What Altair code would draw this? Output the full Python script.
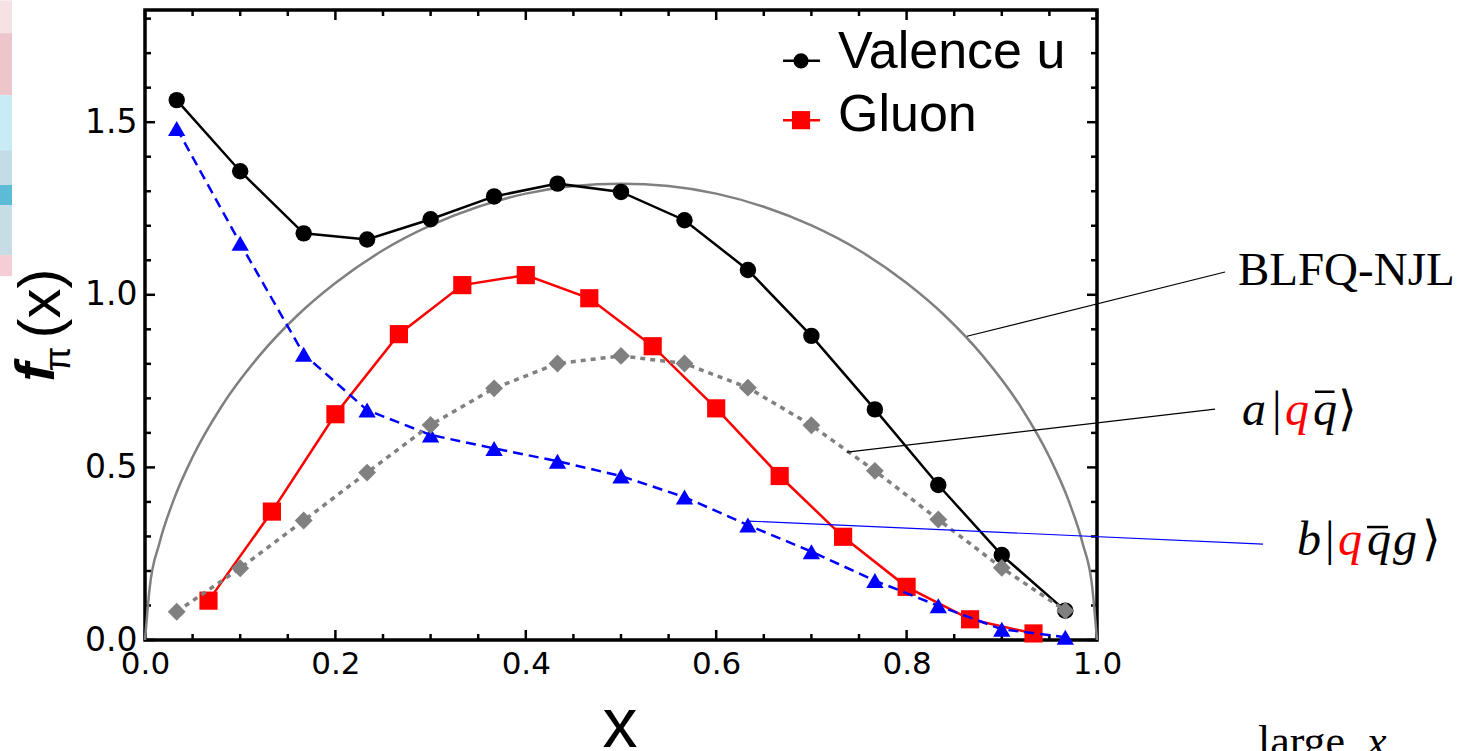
import altair as alt
import pandas as pd

# ---------------- data ----------------
x_odd = [0.0333, 0.1, 0.1667, 0.2333, 0.3, 0.3667, 0.4333, 0.5, 0.5667,
         0.6333, 0.7, 0.7667, 0.8333, 0.9, 0.9667]
x_even = [0.0667, 0.1333, 0.2, 0.2667, 0.3333, 0.4, 0.4667, 0.5333, 0.6,
          0.6667, 0.7333, 0.8, 0.8667, 0.9333]

valence_u = [1.564, 1.358, 1.178, 1.160, 1.219, 1.285, 1.322, 1.298, 1.216,
             1.072, 0.881, 0.668, 0.449, 0.246, 0.085]
gluon = [0.114, 0.372, 0.654, 0.886, 1.028, 1.057, 0.990, 0.851, 0.671,
         0.475, 0.299, 0.154, 0.060, 0.019]
a_qqbar = [0.082, 0.208, 0.346, 0.485, 0.623, 0.729, 0.801, 0.823, 0.801,
           0.731, 0.622, 0.490, 0.349, 0.209, 0.085]
b_qqbarg = [1.482, 1.149, 0.828, 0.666, 0.594, 0.555, 0.518, 0.475, 0.414,
            0.333, 0.256, 0.172, 0.099, 0.031, 0.008]

blfq_x = [0.0, 0.005, 0.015, 0.03, 0.05, 0.08, 0.12, 0.16, 0.2, 0.25, 0.3,
          0.35, 0.4, 0.45, 0.5, 0.55, 0.6, 0.65, 0.7, 0.75, 0.8, 0.84, 0.88,
          0.92, 0.95, 0.97, 0.985, 0.995, 1.0]
blfq_y = [0.0, 0.153, 0.279, 0.405, 0.530, 0.675, 0.823, 0.940, 1.034, 1.129,
          1.201, 1.255, 1.293, 1.315, 1.322, 1.315, 1.293, 1.255, 1.201, 1.129,
          1.034, 0.940, 0.823, 0.675, 0.530, 0.405, 0.279, 0.153, 0.0]

x_tick_labels = [0.0, 0.2, 0.4, 0.6, 0.8, 1.0]
y_tick_labels = [0.0, 0.5, 1.0, 1.5]
x_minor_step = 0.05
y_minor_step = 0.1

X_DOMAIN = [0.0, 1.0]
Y_DOMAIN = [0.0, 1.825]

# ---------------- scales / axes ----------------
xs = alt.Scale(domain=X_DOMAIN, nice=False, zero=False)
ys = alt.Scale(domain=Y_DOMAIN, nice=False, zero=False)
xax = alt.Axis(values=x_tick_labels, format='.1f', title=None, ticks=False,
               domain=False, grid=False, labelFont='DejaVu Sans',
               labelFontSize=31, labelColor='black', labelPadding=9,
               labelFlush=False, labelOverlap=False)
yax = alt.Axis(values=y_tick_labels, format='.1f', title=None, ticks=False,
               domain=False, grid=False, labelFont='DejaVu Sans',
               labelFontSize=33, labelColor='black', labelPadding=8,
               labelOverlap=False)


def X(f='x'):
    return alt.X(f'{f}:Q', scale=xs, axis=xax)


def Y(f='y'):
    return alt.Y(f'{f}:Q', scale=ys, axis=yax)


def df(xv, yv):
    return pd.DataFrame({'x': xv, 'y': yv})


layers = []

# decorative fragment of a picture at the far left
decor = pd.DataFrame({
    'x': [-0.1523] * 7, 'x2': [-0.1397] * 7,
    'y': [1.853, 1.758, 1.578, 1.419, 1.318, 1.260, 1.115],
    'y2': [1.758, 1.578, 1.419, 1.318, 1.260, 1.115, 1.054],
    'c': ['#f6e2e5', '#edc6cb', '#c9ebf5', '#c2dde6', '#5cbcd6', '#c6dde5', '#f4ced4'],
})
layers.append(alt.Chart(decor).mark_rect().encode(
    X(), Y(), x2='x2:Q', y2='y2:Q', color=alt.Color('c:N', scale=None)))

# ---------------- frame ticks (inside) ----------------
tick_rows = []
nx = int(round(1 / x_minor_step))
for i in range(nx + 1):
    v = round(i * x_minor_step, 3)
    major = any(abs(v - t) < 1e-9 for t in x_tick_labels)
    ln = 0.029 if major else 0.0174
    tick_rows.append({'x': v, 'x2': v, 'y': 0.0, 'y2': ln})
    tick_rows.append({'x': v, 'x2': v, 'y': Y_DOMAIN[1], 'y2': Y_DOMAIN[1] - ln})
ny = int(Y_DOMAIN[1] / y_minor_step)
for i in range(ny + 1):
    v = round(i * y_minor_step, 3)
    major = any(abs(v - t) < 1e-9 for t in y_tick_labels)
    ln = 0.0105 if major else 0.0063
    tick_rows.append({'x': 0.0, 'x2': ln, 'y': v, 'y2': v})
    tick_rows.append({'x': 1.0, 'x2': 1.0 - ln, 'y': v, 'y2': v})
ticks = pd.DataFrame(tick_rows)
layers.append(alt.Chart(ticks).mark_rule(color='black', strokeWidth=2.5).encode(
    X(), Y(), x2='x2:Q', y2='y2:Q'))

# ---------------- curves ----------------
layers.append(alt.Chart(df(blfq_x, blfq_y)).mark_line(
    color='#808080', strokeWidth=2.5, interpolate='monotone').encode(X(), Y()))

d_val = df(x_odd, valence_u)
layers.append(alt.Chart(d_val).mark_line(color='black', strokeWidth=2.5).encode(X(), Y()))
layers.append(alt.Chart(d_val).mark_point(shape='circle', filled=True, size=270,
                                          color='black', opacity=1).encode(X(), Y()))

d_g = df(x_even, gluon)
layers.append(alt.Chart(d_g).mark_line(color='#ff0000', strokeWidth=2.5).encode(X(), Y()))
layers.append(alt.Chart(d_g).mark_point(shape='square', filled=True, size=330,
                                        color='#ff0000', opacity=1).encode(X(), Y()))

d_b = df(x_odd, b_qqbarg)
layers.append(alt.Chart(d_b).mark_line(color='#0000ff', strokeWidth=2.5,
                                       strokeDash=[10, 6]).encode(X(), Y()))
layers.append(alt.Chart(d_b).mark_point(shape='triangle-up', filled=True, size=300,
                                        color='#0000ff', opacity=1).encode(X(), Y()))

d_a = df(x_odd, a_qqbar)
layers.append(alt.Chart(d_a).mark_line(color='#808080', strokeWidth=3.5,
                                       strokeDash=[5, 5]).encode(X(), Y()))
layers.append(alt.Chart(d_a).mark_point(shape='diamond', filled=True, size=320,
                                        color='#808080', opacity=1).encode(X(), Y()))

# ---------------- legend ----------------
leg = pd.DataFrame({'x': [0.6702, 0.6702], 'x2': [0.7090, 0.7090],
                    'y': [1.6777, 1.5059], 'y2': [1.6777, 1.5059],
                    'c': ['black', '#ff0000']})
layers.append(alt.Chart(leg).mark_rule(strokeWidth=2.5).encode(
    X(), Y(), x2='x2:Q', y2='y2:Q', color=alt.Color('c:N', scale=None)))
layers.append(alt.Chart(df([0.6891], [1.6777])).mark_point(
    shape='circle', filled=True, size=230, color='black', opacity=1).encode(X(), Y()))
layers.append(alt.Chart(df([0.6891], [1.5059])).mark_point(
    shape='square', filled=True, size=330, color='#ff0000', opacity=1).encode(X(), Y()))
leg_txt = pd.DataFrame({'x': [0.7279, 0.7279], 'y': [1.6565, 1.474],
                        't': ['Valence u', 'Gluon']})
layers.append(alt.Chart(leg_txt).mark_text(
    align='left', baseline='alphabetic', font='Liberation Sans', fontSize=52,
    color='black').encode(X(), Y(), text='t:N'))

# ---------------- annotation lines ----------------
ann = pd.DataFrame({
    'x': [0.8634, 0.7374, 0.6334], 'y': [0.880, 0.5445, 0.3446],
    'x2': [1.1345, 1.124, 1.1744], 'y2': [1.066, 0.669, 0.278],
    'c': ['black', 'black', '#0000ff']})
layers.append(alt.Chart(ann).mark_rule(strokeWidth=1.2).encode(
    X(), Y(), x2='x2:Q', y2='y2:Q', color=alt.Color('c:N', scale=None)))

layers.append(alt.Chart(pd.DataFrame({'x': [1.148], 'y': [1.028], 't': ['BLFQ-NJL']}))
              .mark_text(align='left', baseline='alphabetic', font='Liberation Serif',
                         fontSize=47, color='black').encode(X(), Y(), text='t:N'))

# state labels built from pieces
pieces = pd.DataFrame({
    't': ['a', '|', 'q', 'q', '⟩', 'b', '|', 'q', 'q', 'g', '⟩'],
    'x': [1.1523, 1.1838, 1.1975, 1.2269, 1.2535,
          1.2101, 1.2395, 1.2532, 1.2836, 1.3109, 1.3410],
    'y': [0.6226] * 5 + [0.2462] * 6,
    'c': ['black', 'black', '#ff0000', 'black', 'black',
          'black', 'black', '#ff0000', 'black', 'black', 'black'],
    's': ['italic', 'normal', 'italic', 'italic', 'normal',
          'italic', 'normal', 'italic', 'italic', 'italic', 'normal'],
})
for style in ['italic', 'normal']:
    sub = pieces[pieces['s'] == style]
    layers.append(alt.Chart(sub).mark_text(
        align='left', baseline='alphabetic', font='Liberation Serif', fontSize=48,
        fontStyle=style).encode(X(), Y(), text='t:N', color=alt.Color('c:N', scale=None)))
bars = pd.DataFrame({'x': [1.2290, 1.2836], 'x2': [1.2495, 1.3057],
                     'y': [0.7191, 0.3272], 'y2': [0.7191, 0.3272]})
layers.append(alt.Chart(bars).mark_rule(strokeWidth=2.5, color='black').encode(
    X(), Y(), x2='x2:Q', y2='y2:Q'))

# "large x" note at the bottom right
layers.append(alt.Chart(pd.DataFrame({'x': [1.1691], 'y': [-0.3358], 't': ['large']}))
              .mark_text(align='left', baseline='alphabetic', font='Liberation Serif',
                         fontSize=44, color='black').encode(X(), Y(), text='t:N'))
layers.append(alt.Chart(pd.DataFrame({'x': [1.2836], 'y': [-0.3358], 't': ['x']}))
              .mark_text(align='left', baseline='alphabetic', font='Liberation Serif',
                         fontSize=44, fontStyle='italic', color='black')
              .encode(X(), Y(), text='t:N'))

# ---------------- axis titles ----------------
layers.append(alt.Chart(pd.DataFrame({'x': [0.4989], 'y': [-0.31], 't': ['x']}))
              .mark_text(align='center', baseline='alphabetic', font='Liberation Sans',
                         fontSize=70, color='black').encode(X(), Y(), text='t:N'))
ytitle = pd.DataFrame({'x': [-0.1082, -0.1134, -0.0903],
                       'y': [0.975, 0.776, 0.8138],
                       't': ['(x)', 'f', 'π']})
layers.append(alt.Chart(ytitle[ytitle['t'] == '(x)']).mark_text(
    align='center', baseline='middle', angle=270, font='Liberation Sans', fontSize=60,
    color='black').encode(X(), Y(), text='t:N'))
layers.append(alt.Chart(ytitle[ytitle['t'] == 'f']).mark_text(
    align='center', baseline='middle', angle=270, font='Liberation Sans', fontSize=56,
    fontStyle='italic', fontWeight='bold', color='black').encode(X(), Y(), text='t:N'))
layers.append(alt.Chart(ytitle[ytitle['t'] == 'π']).mark_text(
    align='center', baseline='middle', angle=270, font='Liberation Sans', fontSize=36,
    color='black').encode(X(), Y(), text='t:N'))

chart = alt.layer(*layers).properties(width=952, height=630, padding=0) \
    .configure_view(stroke='black', strokeWidth=3.5)

chart.save("out.html", embed_options={"renderer": "svg", "actions": False})
